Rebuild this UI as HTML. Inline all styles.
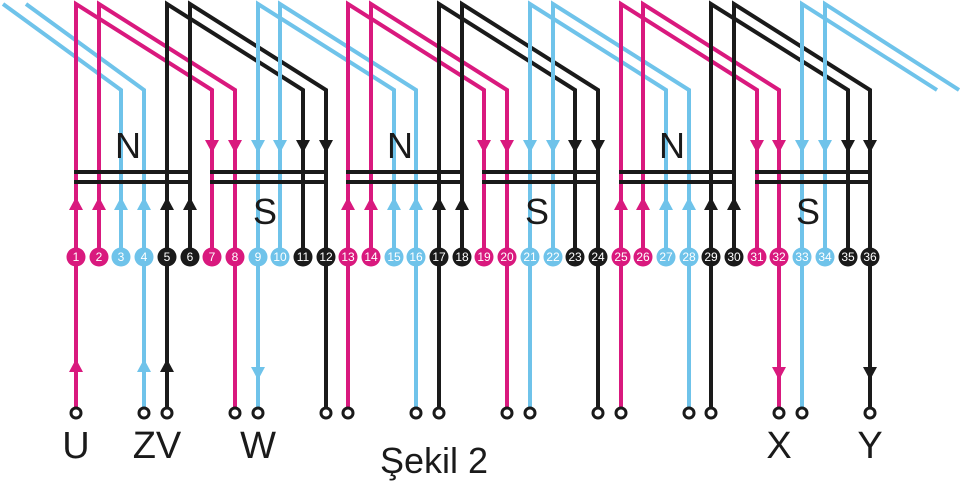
<!DOCTYPE html>
<html><head><meta charset="utf-8"><style>
html,body{margin:0;padding:0;background:#fff;width:960px;height:481px;overflow:hidden}
svg{display:block}
.p{stroke:#d9197e}.b{stroke:#6fc3ea}.k{stroke:#1a1a1a}
.pf{fill:#d9197e}.bf{fill:#6fc3ea}.kf{fill:#1a1a1a}
polyline,line{fill:none;stroke-width:4;stroke-linejoin:miter}
.n{font-family:"Liberation Sans",sans-serif;font-size:12px;fill:#fff;text-anchor:middle}
.L{font-family:"Liberation Sans",sans-serif;font-size:38px;fill:#1a1a1a;text-anchor:middle}
</style></head><body>
<svg width="960" height="481" viewBox="0 0 960 481" xmlns="http://www.w3.org/2000/svg">
<g>
<polyline class="b" points="3,4 121,90 121,257"/>
<polyline class="b" points="26,4 144,90 144,257"/>
<polyline class="p" points="76,257 76,4 212,90 212,257"/>
<polyline class="p" points="99,257 99,4 235,90 235,257"/>
<polyline class="k" points="167,257 167,4 303,90 303,257"/>
<polyline class="k" points="190,257 190,4 326,90 326,257"/>
<polyline class="b" points="258,257 258,4 394,90 394,257"/>
<polyline class="b" points="280,257 280,4 416,90 416,257"/>
<polyline class="p" points="348,257 348,4 484,90 484,257"/>
<polyline class="p" points="371,257 371,4 507,90 507,257"/>
<polyline class="k" points="439,257 439,4 575,90 575,257"/>
<polyline class="k" points="462,257 462,4 598,90 598,257"/>
<polyline class="b" points="530,257 530,4 666,90 666,257"/>
<polyline class="b" points="553,257 553,4 689,90 689,257"/>
<polyline class="p" points="621,257 621,4 757,90 757,257"/>
<polyline class="p" points="643,257 643,4 779,90 779,257"/>
<polyline class="k" points="711,257 711,4 848,90 848,257"/>
<polyline class="k" points="734,257 734,4 870,90 870,257"/>
<polyline class="b" points="802,257 802,4 937,90"/>
<polyline class="b" points="825,257 825,4 959,90"/>
</g>
<g stroke="#1a1a1a" stroke-width="3">
<line x1="74" y1="172" x2="192" y2="172"/><line x1="74" y1="182" x2="192" y2="182"/>
<line x1="210" y1="172" x2="328" y2="172"/><line x1="210" y1="182" x2="328" y2="182"/>
<line x1="346" y1="172" x2="464" y2="172"/><line x1="346" y1="182" x2="464" y2="182"/>
<line x1="482" y1="172" x2="600" y2="172"/><line x1="482" y1="182" x2="600" y2="182"/>
<line x1="619" y1="172" x2="736" y2="172"/><line x1="619" y1="182" x2="736" y2="182"/>
<line x1="755" y1="172" x2="872" y2="172"/><line x1="755" y1="182" x2="872" y2="182"/>
</g>
<g>
<polygon class="pf" points="69,210 83,210 76,197"/>
<polygon class="pf" points="92,210 106,210 99,197"/>
<polygon class="bf" points="114,210 128,210 121,197"/>
<polygon class="bf" points="137,210 151,210 144,197"/>
<polygon class="kf" points="160,210 174,210 167,197"/>
<polygon class="kf" points="183,210 197,210 190,197"/>
<polygon class="pf" points="341,210 355,210 348,197"/>
<polygon class="pf" points="364,210 378,210 371,197"/>
<polygon class="bf" points="387,210 401,210 394,197"/>
<polygon class="bf" points="409,210 423,210 416,197"/>
<polygon class="kf" points="432,210 446,210 439,197"/>
<polygon class="kf" points="455,210 469,210 462,197"/>
<polygon class="pf" points="614,210 628,210 621,197"/>
<polygon class="pf" points="636,210 650,210 643,197"/>
<polygon class="bf" points="659,210 673,210 666,197"/>
<polygon class="bf" points="682,210 696,210 689,197"/>
<polygon class="kf" points="704,210 718,210 711,197"/>
<polygon class="kf" points="727,210 741,210 734,197"/>
</g>
<g>
<polygon class="pf" points="205,140 219,140 212,153"/>
<polygon class="pf" points="228,140 242,140 235,153"/>
<polygon class="bf" points="251,140 265,140 258,153"/>
<polygon class="bf" points="273,140 287,140 280,153"/>
<polygon class="kf" points="296,140 310,140 303,153"/>
<polygon class="kf" points="319,140 333,140 326,153"/>
<polygon class="pf" points="477,140 491,140 484,153"/>
<polygon class="pf" points="500,140 514,140 507,153"/>
<polygon class="bf" points="523,140 537,140 530,153"/>
<polygon class="bf" points="546,140 560,140 553,153"/>
<polygon class="kf" points="568,140 582,140 575,153"/>
<polygon class="kf" points="591,140 605,140 598,153"/>
<polygon class="pf" points="750,140 764,140 757,153"/>
<polygon class="pf" points="772,140 786,140 779,153"/>
<polygon class="bf" points="795,140 809,140 802,153"/>
<polygon class="bf" points="818,140 832,140 825,153"/>
<polygon class="kf" points="841,140 855,140 848,153"/>
<polygon class="kf" points="863,140 877,140 870,153"/>
</g>
<g class="L" style="font-size:36px">
<text x="128" y="158">N</text><text x="400" y="158">N</text><text x="672" y="158">N</text>
<text x="265" y="224">S</text><text x="537" y="224">S</text><text x="808" y="224">S</text>
</g>
<g>
<line class="p" x1="76" y1="257" x2="76" y2="409"/>
<line class="b" x1="144" y1="257" x2="144" y2="409"/>
<line class="k" x1="167" y1="257" x2="167" y2="409"/>
<line class="p" x1="235" y1="257" x2="235" y2="409"/>
<line class="b" x1="258" y1="257" x2="258" y2="409"/>
<line class="k" x1="326" y1="257" x2="326" y2="409"/>
<line class="p" x1="348" y1="257" x2="348" y2="409"/>
<line class="b" x1="416" y1="257" x2="416" y2="409"/>
<line class="k" x1="439" y1="257" x2="439" y2="409"/>
<line class="p" x1="507" y1="257" x2="507" y2="409"/>
<line class="b" x1="530" y1="257" x2="530" y2="409"/>
<line class="k" x1="598" y1="257" x2="598" y2="409"/>
<line class="p" x1="621" y1="257" x2="621" y2="409"/>
<line class="b" x1="689" y1="257" x2="689" y2="409"/>
<line class="k" x1="711" y1="257" x2="711" y2="409"/>
<line class="p" x1="779" y1="257" x2="779" y2="409"/>
<line class="b" x1="802" y1="257" x2="802" y2="409"/>
<line class="k" x1="870" y1="257" x2="870" y2="409"/>
<polygon class="pf" points="69,372 83,372 76,359"/>
<polygon class="bf" points="137,372 151,372 144,359"/>
<polygon class="kf" points="160,372 174,372 167,359"/>
<polygon class="bf" points="251,367 265,367 258,380"/>
<polygon class="pf" points="772,367 786,367 779,380"/>
<polygon class="kf" points="863,367 877,367 870,380"/>
</g>
<g fill="#fff" stroke="#1a1a1a" stroke-width="3">
<circle cx="76" cy="413" r="5"/><circle cx="144" cy="413" r="5"/><circle cx="167" cy="413" r="5"/>
<circle cx="235" cy="413" r="5"/><circle cx="258" cy="413" r="5"/><circle cx="326" cy="413" r="5"/>
<circle cx="348" cy="413" r="5"/><circle cx="416" cy="413" r="5"/><circle cx="439" cy="413" r="5"/>
<circle cx="507" cy="413" r="5"/><circle cx="530" cy="413" r="5"/><circle cx="598" cy="413" r="5"/>
<circle cx="621" cy="413" r="5"/><circle cx="689" cy="413" r="5"/><circle cx="711" cy="413" r="5"/>
<circle cx="779" cy="413" r="5"/><circle cx="802" cy="413" r="5"/><circle cx="870" cy="413" r="5"/>
</g>
<g>
<circle class="pf" cx="76" cy="257" r="9.5"/><circle class="pf" cx="99" cy="257" r="9.5"/>
<circle class="bf" cx="121" cy="257" r="9.5"/><circle class="bf" cx="144" cy="257" r="9.5"/>
<circle class="kf" cx="167" cy="257" r="9.5"/><circle class="kf" cx="190" cy="257" r="9.5"/>
<circle class="pf" cx="212" cy="257" r="9.5"/><circle class="pf" cx="235" cy="257" r="9.5"/>
<circle class="bf" cx="258" cy="257" r="9.5"/><circle class="bf" cx="280" cy="257" r="9.5"/>
<circle class="kf" cx="303" cy="257" r="9.5"/><circle class="kf" cx="326" cy="257" r="9.5"/>
<circle class="pf" cx="348" cy="257" r="9.5"/><circle class="pf" cx="371" cy="257" r="9.5"/>
<circle class="bf" cx="394" cy="257" r="9.5"/><circle class="bf" cx="416" cy="257" r="9.5"/>
<circle class="kf" cx="439" cy="257" r="9.5"/><circle class="kf" cx="462" cy="257" r="9.5"/>
<circle class="pf" cx="484" cy="257" r="9.5"/><circle class="pf" cx="507" cy="257" r="9.5"/>
<circle class="bf" cx="530" cy="257" r="9.5"/><circle class="bf" cx="553" cy="257" r="9.5"/>
<circle class="kf" cx="575" cy="257" r="9.5"/><circle class="kf" cx="598" cy="257" r="9.5"/>
<circle class="pf" cx="621" cy="257" r="9.5"/><circle class="pf" cx="643" cy="257" r="9.5"/>
<circle class="bf" cx="666" cy="257" r="9.5"/><circle class="bf" cx="689" cy="257" r="9.5"/>
<circle class="kf" cx="711" cy="257" r="9.5"/><circle class="kf" cx="734" cy="257" r="9.5"/>
<circle class="pf" cx="757" cy="257" r="9.5"/><circle class="pf" cx="779" cy="257" r="9.5"/>
<circle class="bf" cx="802" cy="257" r="9.5"/><circle class="bf" cx="825" cy="257" r="9.5"/>
<circle class="kf" cx="848" cy="257" r="9.5"/><circle class="kf" cx="870" cy="257" r="9.5"/>
</g>
<g class="n">
<text x="76" y="261">1</text><text x="99" y="261">2</text><text x="121" y="261">3</text><text x="144" y="261">4</text>
<text x="167" y="261">5</text><text x="190" y="261">6</text><text x="212" y="261">7</text><text x="235" y="261">8</text>
<text x="258" y="261">9</text><text x="280" y="261">10</text><text x="303" y="261">11</text><text x="326" y="261">12</text>
<text x="348" y="261">13</text><text x="371" y="261">14</text><text x="394" y="261">15</text><text x="416" y="261">16</text>
<text x="439" y="261">17</text><text x="462" y="261">18</text><text x="484" y="261">19</text><text x="507" y="261">20</text>
<text x="530" y="261">21</text><text x="553" y="261">22</text><text x="575" y="261">23</text><text x="598" y="261">24</text>
<text x="621" y="261">25</text><text x="643" y="261">26</text><text x="666" y="261">27</text><text x="689" y="261">28</text>
<text x="711" y="261">29</text><text x="734" y="261">30</text><text x="757" y="261">31</text><text x="779" y="261">32</text>
<text x="802" y="261">33</text><text x="825" y="261">34</text><text x="848" y="261">35</text><text x="870" y="261">36</text>
</g>
<g class="L">
<text x="76" y="458">U</text><text x="157" y="458">ZV</text><text x="258" y="458">W</text>
<text x="779" y="458">X</text><text x="870" y="458">Y</text>
<text x="434" y="473" style="font-size:36px">Şekil 2</text>
</g>
</svg>
</body></html>
